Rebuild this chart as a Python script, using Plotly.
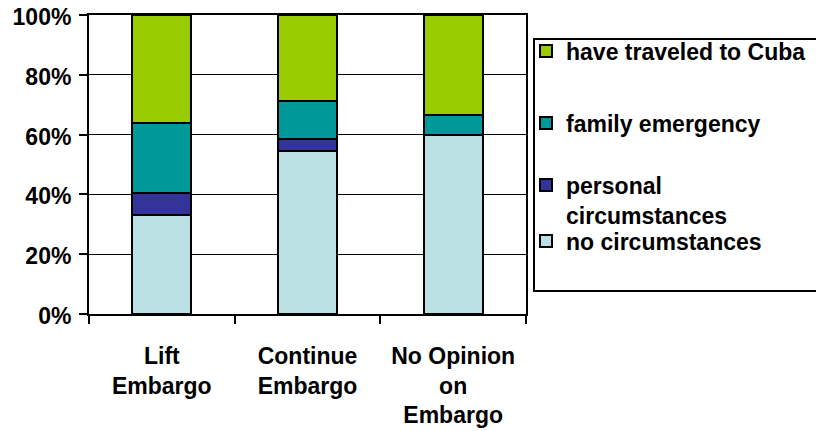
import plotly.graph_objects as go

categories = ["Lift Embargo", "Continue Embargo", "No Opinion on Embargo"]
tick_labels = ["Lift<br>Embargo", "Continue<br>Embargo", "No Opinion<br>on<br>Embargo"]

no_circumstances = [33.0, 54.6, 60.0]
personal_circumstances = [7.4, 3.9, 0.0]
family_emergency = [23.6, 12.8, 6.7]
have_traveled = [36.0, 28.7, 33.3]

series_names = ["no circumstances", "personal<br>circumstances", "family emergency", "have traveled to Cuba"]
series_values = [no_circumstances, personal_circumstances, family_emergency, have_traveled]
series_colors = ["#BBE0E3", "#333399", "#009999", "#99CC00"]
legend_ids = ["legend4", "legend3", "legend2", "legend"]

W, H = 816, 431
L, R, T, B = 89, 526, 15, 314

def px_x(p):
    return (p - L) / (R - L)

def px_y(p):
    return (B - p) / (B - T)

fig = go.Figure()
for name, vals, col, lg in zip(series_names, series_values, series_colors, legend_ids):
    fig.add_trace(go.Bar(
        x=categories, y=vals, name=name,
        marker=dict(color=col, line=dict(color="black", width=2)),
        legend=lg,
    ))

font_family = "Liberation Sans, Arial, sans-serif"
leg_common = dict(
    font=dict(family=font_family, size=23, color="black", weight="bold"),
    bgcolor="rgba(0,0,0,0)", borderwidth=0,
    xanchor="left", yanchor="middle", valign="top",
    x=px_x(526),
)

fig.update_layout(
    template="none",
    width=W, height=H,
    margin=dict(l=L, r=W - R, t=T, b=H - B, pad=0, autoexpand=False),
    paper_bgcolor="white", plot_bgcolor="white",
    barmode="stack", bargap=0.595,
    font=dict(family=font_family, size=23, color="black", weight="bold"),
    showlegend=True,
    legend=dict(**leg_common, y=px_y(51)),
    legend2=dict(**leg_common, y=px_y(123)),
    legend3=dict(**leg_common, y=px_y(200)),
    legend4=dict(**leg_common, y=px_y(241)),
    xaxis=dict(
        type="category", automargin=False,
        tickvals=categories, ticktext=tick_labels,
        tickson="boundaries", ticks="outside", ticklen=8, tickwidth=2, tickcolor="black",
        ticklabelstandoff=20, ticklabeloverflow="allow",
        showline=True, linecolor="black", linewidth=2, mirror=True,
        showgrid=False, fixedrange=True,
        tickfont=dict(family=font_family, size=23, color="black", weight="bold"),
    ),
    yaxis=dict(
        range=[0, 100], tickvals=[0, 20, 40, 60, 80, 100], automargin=False,
        ticktext=["0%", "20%", "40%", "60%", "80%", "100%"],
        ticks="outside", ticklen=8, tickwidth=2, tickcolor="black",
        ticklabelstandoff=3, ticklabelshift=2, ticklabeloverflow="allow",
        showline=True, linecolor="black", linewidth=2, mirror=True,
        showgrid=True, gridcolor="black", gridwidth=1,
        zeroline=False, fixedrange=True,
        tickfont=dict(family=font_family, size=23, color="black", weight="bold"),
    ),
    shapes=[dict(
        type="rect", xref="paper", yref="paper",
        x0=px_x(534), x1=px_x(840), y0=px_y(291), y1=px_y(39),
        line=dict(color="black", width=2), fillcolor="rgba(0,0,0,0)",
    )],
)

# remove the default 8px page margin so the figure fills the window exactly
fig.write_html(
    "out.html",
    config={"displayModeBar": False},
    post_script="document.body.style.margin='0';document.body.style.overflow='hidden';",
)
